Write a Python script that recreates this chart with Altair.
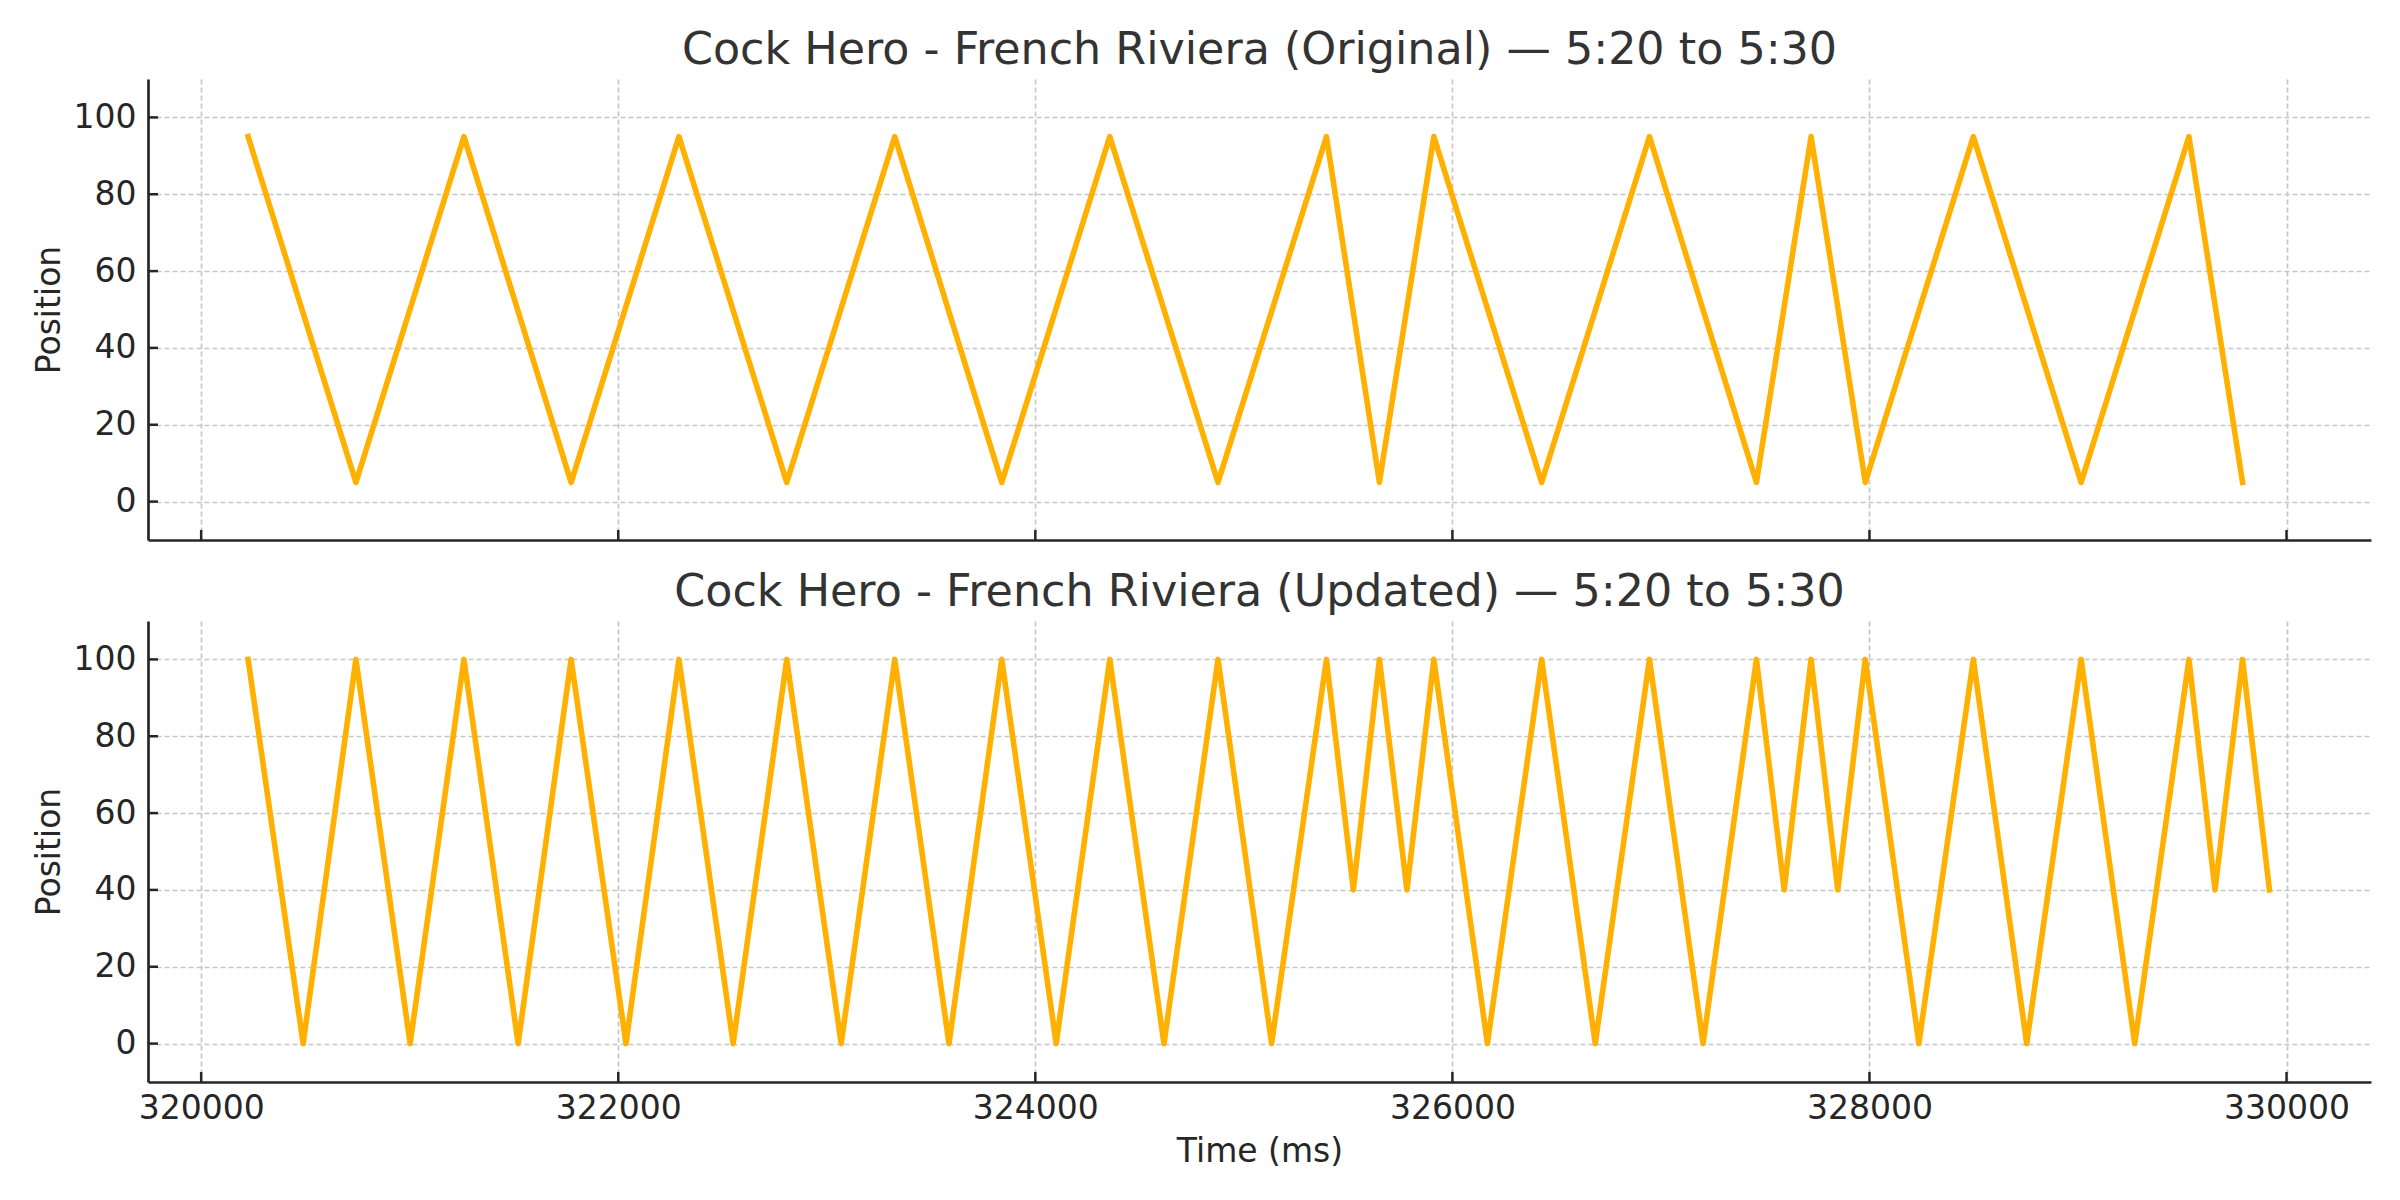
import altair as alt
import pandas as pd

# ---- data ----
orig_time = [320225, 320742, 321260, 321774, 322291, 322808, 323326, 323839,
             324357, 324876, 325396, 325650, 325911, 326428, 326945, 327458,
             327720, 327980, 328498, 329015, 329532, 329789]
orig_pos = [95, 5, 95, 5, 95, 5, 95, 5, 95, 5, 95, 5, 95, 5, 95, 5, 95, 5, 95, 5, 95, 5]

upd_time = [320225, 320489, 320742, 321002, 321260, 321520, 321774, 322037,
            322291, 322551, 322808, 323069, 323326, 323586, 323839, 324100,
            324357, 324617, 324876, 325133, 325396, 325525, 325650, 325782,
            325911, 326168, 326428, 326685, 326945, 327202, 327458, 327591,
            327720, 327848, 327980, 328237, 328498, 328754, 329015, 329272,
            329532, 329657, 329789, 329918]
upd_pos = [100, 0, 100, 0, 100, 0, 100, 0, 100, 0, 100, 0, 100, 0, 100, 0,
           100, 0, 100, 0, 100, 40, 100, 40, 100, 0, 100, 0, 100, 0, 100, 40,
           100, 40, 100, 0, 100, 0, 100, 0, 100, 40, 100, 40]

x_ticks = [320000, 322000, 324000, 326000, 328000, 330000]
y_ticks = [0, 20, 40, 60, 80, 100]
x_domain = [319745, 330405]
y_domain = [-10, 110]

titles = ["Cock Hero - French Riviera (Original) \u2014 5:20 to 5:30",
          "Cock Hero - French Riviera (Updated) \u2014 5:20 to 5:30"]

W, H = 2223, 461
FONT = "DejaVu Sans"
DARK = "#262626"
LINE = "#FFB000"

xscale = alt.Scale(domain=x_domain, nice=False, zero=False)
yscale = alt.Scale(domain=y_domain, nice=False, zero=False)


def panel(times, pos, title, bottom):
    df = pd.DataFrame({"t": times, "p": pos, "i": list(range(len(times)))})
    if bottom:
        xaxis = alt.Axis(values=x_ticks, format="d", ticks=False, labelPadding=10,
                         title="Time (ms)", titlePadding=10)
    else:
        xaxis = alt.Axis(values=x_ticks, ticks=False, labels=False, title=None)
    yaxis = alt.Axis(values=y_ticks, ticks=False, labelPadding=12,
                     title="Position", titlePadding=7)
    line = alt.Chart(df).mark_line(
        color=LINE, strokeWidth=5.6, strokeJoin="round", strokeCap="square"
    ).encode(
        x=alt.X("t:Q", scale=xscale, axis=xaxis),
        y=alt.Y("p:Q", scale=yscale, axis=yaxis),
        order="i:Q",
    )
    xt = alt.Chart(pd.DataFrame({"t": x_ticks})).mark_rule(
        color=DARK, strokeWidth=2.5
    ).encode(
        x=alt.X("t:Q", scale=xscale),
        y=alt.value(H), y2=alt.value(H - 10),
    )
    yt = alt.Chart(pd.DataFrame({"p": y_ticks})).mark_rule(
        color=DARK, strokeWidth=2.5
    ).encode(
        y=alt.Y("p:Q", scale=yscale),
        x=alt.value(0), x2=alt.value(10),
    )
    return alt.layer(line, xt, yt).properties(
        width=W, height=H,
        title=alt.TitleParams(title, fontSize=44.4, font=FONT, fontWeight="normal",
                              color="#333333", offset=6),
    )


chart = alt.vconcat(
    panel(orig_time, orig_pos, titles[0], False),
    panel(upd_time, upd_pos, titles[1], True),
    spacing=27,
).properties(
    padding={"left": 25, "top": 19, "right": 10, "bottom": 10},
    background="white",
).configure_view(
    stroke=None
).configure_axis(
    labelFont=FONT, titleFont=FONT, labelFontSize=33, titleFontSize=33,
    labelColor=DARK, titleColor=DARK, titleFontWeight="normal",
    domainColor=DARK, domainWidth=2.7,
    gridColor="#c6c6c6", gridDash=[5, 3], gridWidth=1.7,
)

chart.save("out.html", embed_options={"renderer": "svg", "actions": False})
